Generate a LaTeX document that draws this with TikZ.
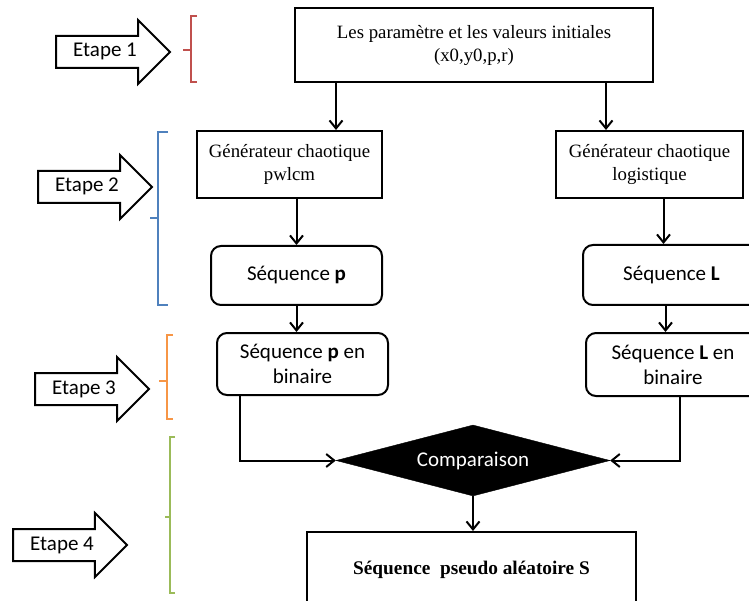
\documentclass[tikz,border=0pt]{standalone}
\usepackage{fontspec}
\setmainfont{Liberation Serif}
\newfontfamily\calibrifont{Carlito}
\usepackage{xcolor}
\usetikzlibrary{arrows.meta, positioning, shapes.geometric, shapes.arrows, calc}

\definecolor{braceone}{HTML}{C0504D}
\definecolor{bracetwo}{HTML}{4F81BD}
\definecolor{bracethree}{HTML}{F79646}
\definecolor{bracefour}{HTML}{9BBB59}

\begin{document}
\begin{tikzpicture}[
    x=1pt, y=-1pt,
    box/.style={rectangle, draw=black, line width=2pt, inner sep=2pt, align=center, font=\fontsize{18.8}{23}\selectfont},
    seqbox/.style={box, rounded corners=10pt, font=\calibrifont\fontsize{21}{25}\selectfont},
    decision/.style={diamond, aspect=3.86, draw=black, fill=black, text=white, inner sep=0pt, minimum width=274pt, minimum height=71pt, font=\calibrifont\fontsize{21}{25}\selectfont},
    etapearrow/.style={single arrow, draw=black, line width=2pt, fill=white, single arrow head extend=16pt, single arrow tip angle=90, inner xsep=4pt, inner ysep=6pt, text height=14pt, text depth=4pt, minimum height=114pt, minimum width=63pt, font=\calibrifont\fontsize{21}{25}\selectfont},
    bracket/.style={line width=2pt},
    arrow/.style={-{Straight Barb[length=8pt, width=13pt]}, line width=2pt, draw=black},
  ]
  \useasboundingbox (0,0) rectangle (749,601);
  \clip (0,0) rectangle (749,601);

  % Parameters
  \node[box, minimum width=358pt, minimum height=74pt] (params) at (474,45) {Les paramètre et les valeurs initiales\\(x0,y0,p,r)};

  % Chaotic generators
  \node[box, minimum width=185pt, minimum height=67pt] (genP) at (289.5,164.5) {Générateur chaotique\\pwlcm};
  \node[box, minimum width=187pt, minimum height=67pt] (genL) at (649.5,164.5) {Générateur chaotique\\logistique};

  % Sequences
  \node[seqbox, minimum width=171pt, minimum height=59pt] (seqP) at (296.5,275.5) {Séquence \textbf{p}};
  \node[seqbox, minimum width=177pt, minimum height=60pt] (seqL) at (671.5,275) {Séquence \textbf{L}};
  \node[seqbox, minimum width=171pt, minimum height=62pt] (binP) at (302.5,364) {Séquence \textbf{p} en\\binaire};
  \node[seqbox, minimum width=174pt, minimum height=63pt] (binL) at (673,364.5) {Séquence \textbf{L} en\\binaire};

  % Comparison and result
  \node[decision] (comp) at (473,460.5) {Comparaison};
  \node[box, minimum width=329pt, minimum height=76pt, font=\fontsize{19.3}{23}\selectfont] (result) at (471.5,570) {\textbf{Séquence\ \ pseudo aléatoire S}};

  % Arrows
  \draw[arrow] ([xshift=-138pt]params.south) -- ([xshift=-138pt]params.south |- genP.north);
  \draw[arrow] ([xshift=132pt]params.south) -- ([xshift=132pt]params.south |- genL.north);
  \draw[arrow] (genP.south -| seqP.north) -- (seqP.north);
  \draw[arrow] (seqP.south) -- (seqP.south |- binP.north);
  \draw[arrow] ([xshift=14pt]genL.south) -- ([xshift=14pt]genL.south |- seqL.north);
  \draw[arrow] ([xshift=-6pt]seqL.south) -- ([xshift=-6pt]seqL.south |- binL.north);
  \draw[arrow] ([xshift=24pt]binP.south west) |- (comp.west);
  \draw[arrow] ([xshift=95pt]binL.south west) |- (comp.east);
  \draw[arrow] (comp.south) -- (comp.south |- result.north);

  % Steps
  \node[etapearrow, anchor=tail] (etape1) at (55,52) {Etape 1};
  \node[etapearrow, anchor=tail] (etape2) at (37,187) {Etape 2};
  \node[etapearrow, anchor=tail] (etape3) at (34,389) {Etape 3};
  \node[etapearrow, anchor=tail] (etape4) at (12,545) {Etape 4};

  % Brackets
  \draw[bracket, braceone] (197,16) -| (191,82) -- (197,82) (191,50) -- (183,50);
  \draw[bracket, bracetwo] (168,132) -| (158,305) -- (168,305) (158,218) -- (150,218);
  \draw[bracket, bracethree] (173,335) -| (167,419) -- (173,419) (167,381) -- (159,381);
  \draw[bracket, bracefour] (175,437) -| (170,593) -- (175,593) (170,517) -- (165,517);

\end{tikzpicture}
\end{document}
